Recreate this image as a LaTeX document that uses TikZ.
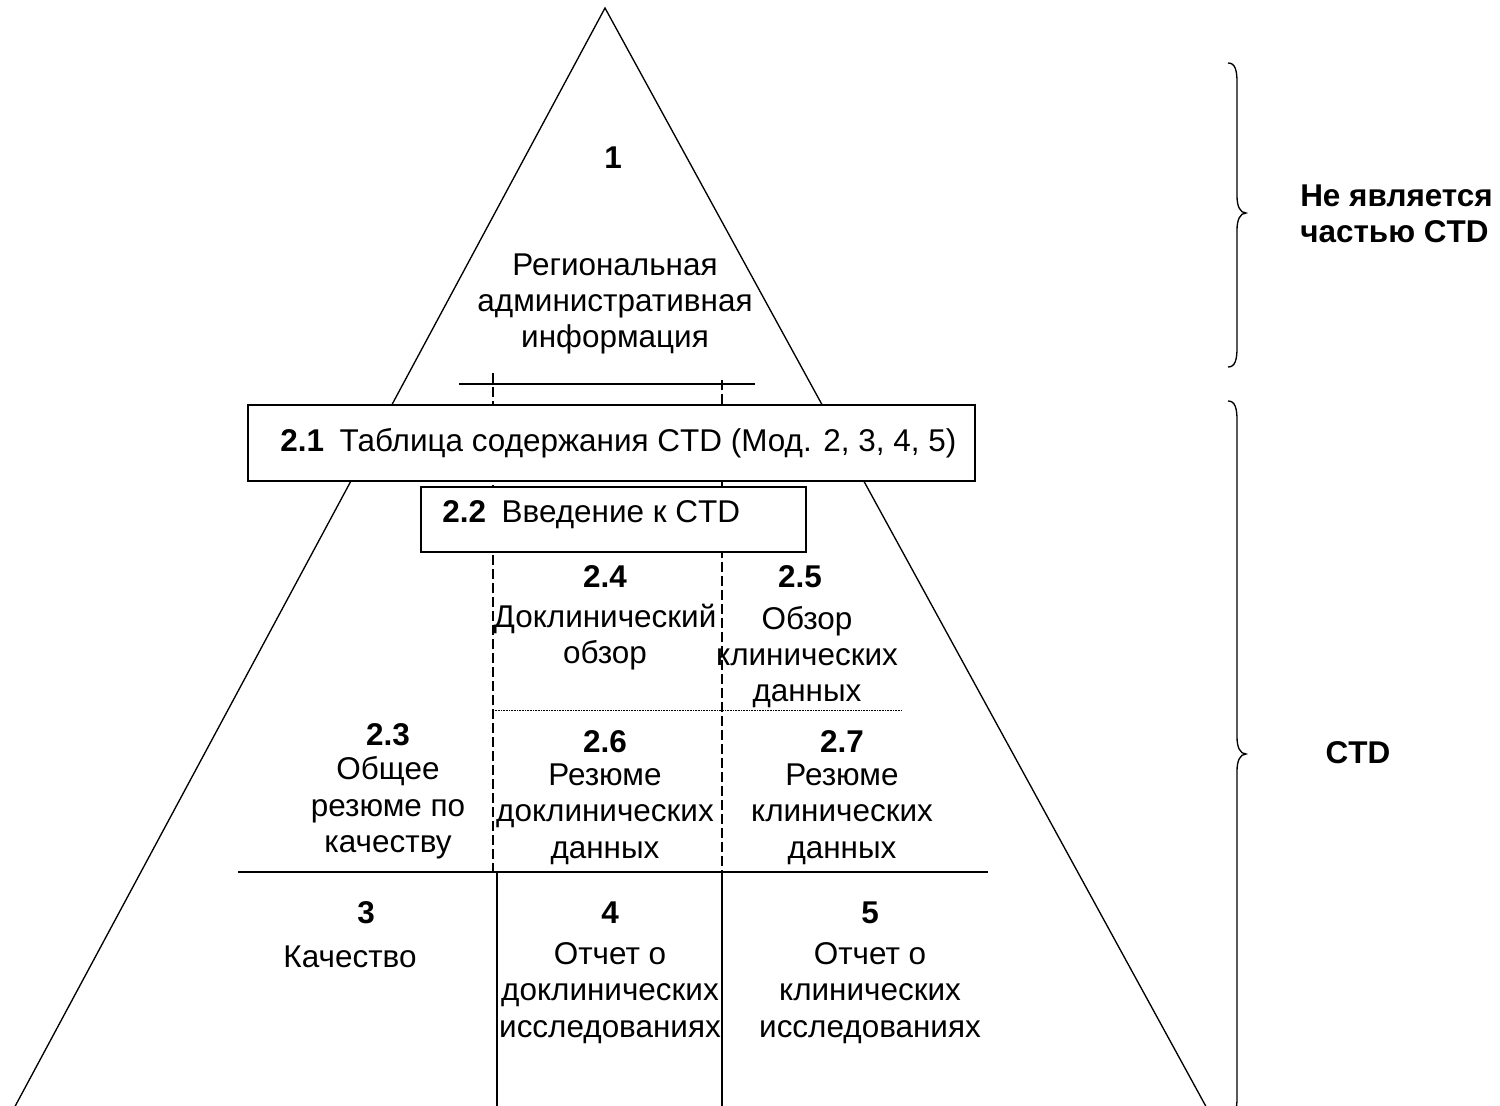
\documentclass[tikz,border=0pt]{standalone}
\usepackage{fontspec}
\setmainfont{Liberation Sans}
\begin{document}
\begin{tikzpicture}[x=0.75pt,y=-0.75pt,
  txt/.style={font=\fontsize{23.6}{27.3}\selectfont, align=center, inner sep=0pt},
  num/.style={font=\fontsize{23.6}{27.3}\selectfont\bfseries, align=center, inner sep=0pt},
  side/.style={font=\fontsize{23.6}{27.3}\selectfont\bfseries, align=left, inner sep=0pt, anchor=west},
  ln/.style={line width=1pt},
  thick ln/.style={line width=1.6pt},
  dsh/.style={line width=0.9pt, dash pattern=on 7.5pt off 3pt},
  dot/.style={line width=0.6pt, dash pattern=on 0.6pt off 0.6pt},
  box/.style={draw, fill=white, line width=1pt, inner sep=0pt}]
\useasboundingbox (0,0) rectangle (1500,1106);
\clip (0,0) rectangle (1500,1106);
% triangle
\coordinate (apex) at (605,8);
\coordinate (bl) at (12,1112);
\coordinate (br) at (1209,1112);
\draw[ln] (bl) -- (apex) -- (br);
% top line
\coordinate (tl1) at (459,384);
\coordinate (tl2) at (755,384);
\draw[ln] (tl1) -- (tl2);
% dashed verticals
\coordinate (d1a) at (493,373);
\coordinate (d1b) at (493,872);
\coordinate (d2a) at (722,380);
\coordinate (d2b) at (722,872);
\draw[dsh] (d1a) -- (d1b);
\draw[dsh] (d2a) -- (d2b);
% dotted line
\coordinate (o1) at (493,710);
\coordinate (o2) at (902,710);
\draw[dot] (o1) -- (o2);
% thick horizontal and solid verticals
\coordinate (h1) at (238,872);
\coordinate (h2) at (988,872);
\draw[thick ln] (h1) -- (h2);
\coordinate (v1a) at (497,872);
\coordinate (v1b) at (497,1112);
\coordinate (v2a) at (722,872);
\coordinate (v2b) at (722,1112);
\draw[ln] (v1a) -- (v1b);
\draw[ln] (v2a) -- (v2b);
% boxes
\node[box, minimum width=545.25pt, minimum height=57pt] (b21) at (611.5,443) {};
\node[box, minimum width=288.75pt, minimum height=48.75pt] (b22) at (613.5,519.5) {};
\node[txt, anchor=west] (t21) at (280,443) {{\bfseries 2.1}\enspace Таблица содержания CTD (Мод. 2, 3, 4, 5)};
\node[txt, anchor=west] (t22) at (442,515) {{\bfseries 2.2}\enspace Введение к CTD};
% texts
\node[num] (n1) at (613,158) {1};
\node[txt] (t1) at (615,304) {Региональная\\административная\\информация};
\node[num] (n24) at (605,577) {2.4};
\node[txt] (t24) at (605,637) {Доклинический\\обзор};
\node[num] (n25) at (800,577) {2.5};
\node[txt] (t25) at (807,657) {Обзор\\клинических\\данных};
\node[num] (n23) at (388,735) {2.3};
\node[txt] (t23) at (388,808) {Общее\\резюме по\\качеству};
\node[num] (n26) at (605,742) {2.6};
\node[txt] (t26) at (605,814) {Резюме\\доклинических\\данных};
\node[num] (n27) at (842,742) {2.7};
\node[txt] (t27) at (842,814) {Резюме\\клинических\\данных};
\node[num] (n3) at (366,913) {3};
\node[txt] (t3) at (350,957) {Качество};
\node[num] (n4) at (610,913) {4};
\node[txt] (t4) at (610,993) {Отчет о\\доклинических\\исследованиях};
\node[num] (n5) at (870,913) {5};
\node[txt] (t5) at (870,993) {Отчет о\\клинических\\исследованиях};
% braces
\draw[ln] (1228,63) .. controls (1235,63) and (1237,70) .. (1237,82) -- (1237,196)
  .. controls (1237,206) and (1240,213) .. (1246,213)
  .. controls (1240,213) and (1237,220) .. (1237,230) -- (1237,348)
  .. controls (1237,360) and (1235,367) .. (1228,367);
\draw[ln] (1228,401) .. controls (1235,401) and (1237,408) .. (1237,420) -- (1237,737)
  .. controls (1237,747) and (1240,754) .. (1246,754)
  .. controls (1240,754) and (1237,761) .. (1237,771) -- (1237,1098)
  .. controls (1237,1110) and (1235,1117) .. (1228,1117);
\node[side] (s1) at (1300,214) {Не является\\частью CTD};
\node[num] (s2) at (1358,753) {CTD};
\end{tikzpicture}
\end{document}
